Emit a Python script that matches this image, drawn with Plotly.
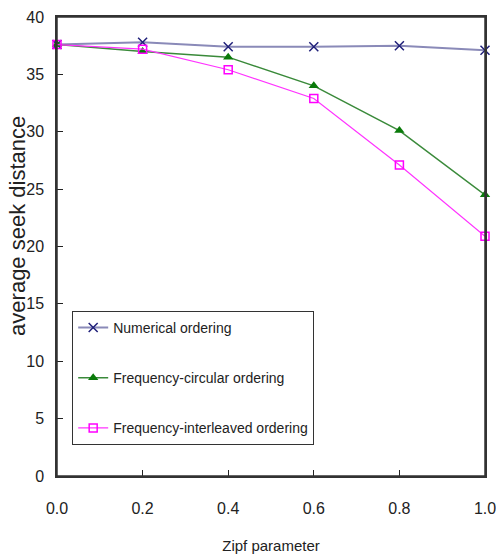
import plotly.graph_objects as go

zipf = [0.0, 0.2, 0.4, 0.6, 0.8, 1.0]
numerical = [37.6, 37.8, 37.4, 37.4, 37.5, 37.1]
freq_circular = [37.6, 37.0, 36.5, 34.0, 30.1, 24.5]
freq_interleaved = [37.6, 37.2, 35.4, 32.9, 27.1, 20.9]
xticks = [0.0, 0.2, 0.4, 0.6, 0.8, 1.0]
xticklabels = ["0.0", "0.2", "0.4", "0.6", "0.8", "1.0"]
yticks = [0, 5, 10, 15, 20, 25, 30, 35, 40]

narrow = "Liberation Sans Narrow, Arial Narrow, Liberation Sans, sans-serif"

fig = go.Figure()
fig.add_trace(go.Scatter(
    x=zipf, y=numerical, name="Numerical ordering", mode="lines+markers",
    line=dict(color="#8a8ab8", width=2),
    marker=dict(symbol="x-thin", size=9, line=dict(color="#20207a", width=1.5)),
    legendgroup="a", cliponaxis=False))
fig.add_trace(go.Scatter(
    x=zipf, y=freq_circular, name="Frequency-circular ordering", mode="lines+markers",
    line=dict(color="#3a8a3a", width=1.5),
    marker=dict(symbol="triangle-up", size=9, color="#0a7a0a"),
    legendgroup="b", cliponaxis=False))
fig.add_trace(go.Scatter(
    x=zipf, y=freq_interleaved, name="Frequency-interleaved ordering", mode="lines+markers",
    line=dict(color="#ff33ff", width=1.2),
    marker=dict(symbol="square-open", size=8, color="#ff00ff", line=dict(width=1.5)),
    legendgroup="c", cliponaxis=False))

fig.update_layout(
    width=496, height=556,
    margin=dict(l=57, r=11, t=17, b=80),
    paper_bgcolor="white", plot_bgcolor="white",
    font=dict(family=narrow, size=15, color="#222"),
    legend=dict(
        x=0.035, y=0.36, xanchor="left", yanchor="top",
        bordercolor="#333", borderwidth=1.2, bgcolor="white",
        font=dict(family=narrow, size=14, color="#222"),
        tracegroupgap=29, itemwidth=30,
    ),
    xaxis=dict(
        range=[0, 1], tickvals=xticks, ticktext=xticklabels,
        ticks="inside", ticklen=6, tickcolor="#222",
        showline=True, linecolor="#333", linewidth=1.5, mirror=True,
        showgrid=False, zeroline=False, automargin=False,
        tickfont=dict(family=narrow, size=16),
        ticklabelstandoff=17, ticklabeloverflow="allow",
        title=dict(text="Zipf parameter", font=dict(family=narrow, size=15), standoff=25),
    ),
    yaxis=dict(
        range=[0, 40], tickvals=yticks,
        ticks="inside", ticklen=6, tickcolor="#222",
        showline=True, linecolor="#333", linewidth=1.5, mirror=True,
        showgrid=False, zeroline=False, automargin=False,
        tickfont=dict(family=narrow, size=16),
        ticklabelstandoff=8, ticklabeloverflow="allow",
    ),
    shapes=[dict(type="rect", xref="paper", yref="paper", x0=0, x1=1, y0=0, y1=1,
                 line=dict(color="#333", width=1.5), layer="above")],
    annotations=[dict(
        text="average seek distance", textangle=-90, showarrow=False,
        xref="paper", yref="paper", x=-0.091, y=0.545,
        xanchor="center", yanchor="middle",
        font=dict(family="Liberation Sans, Arial, sans-serif", size=22, color="#222"),
    )],
)

fig.write_html(
    "out.html",
    config={"displayModeBar": False},
    post_script="document.body.style.margin='0';document.documentElement.style.overflow='hidden';",
)
